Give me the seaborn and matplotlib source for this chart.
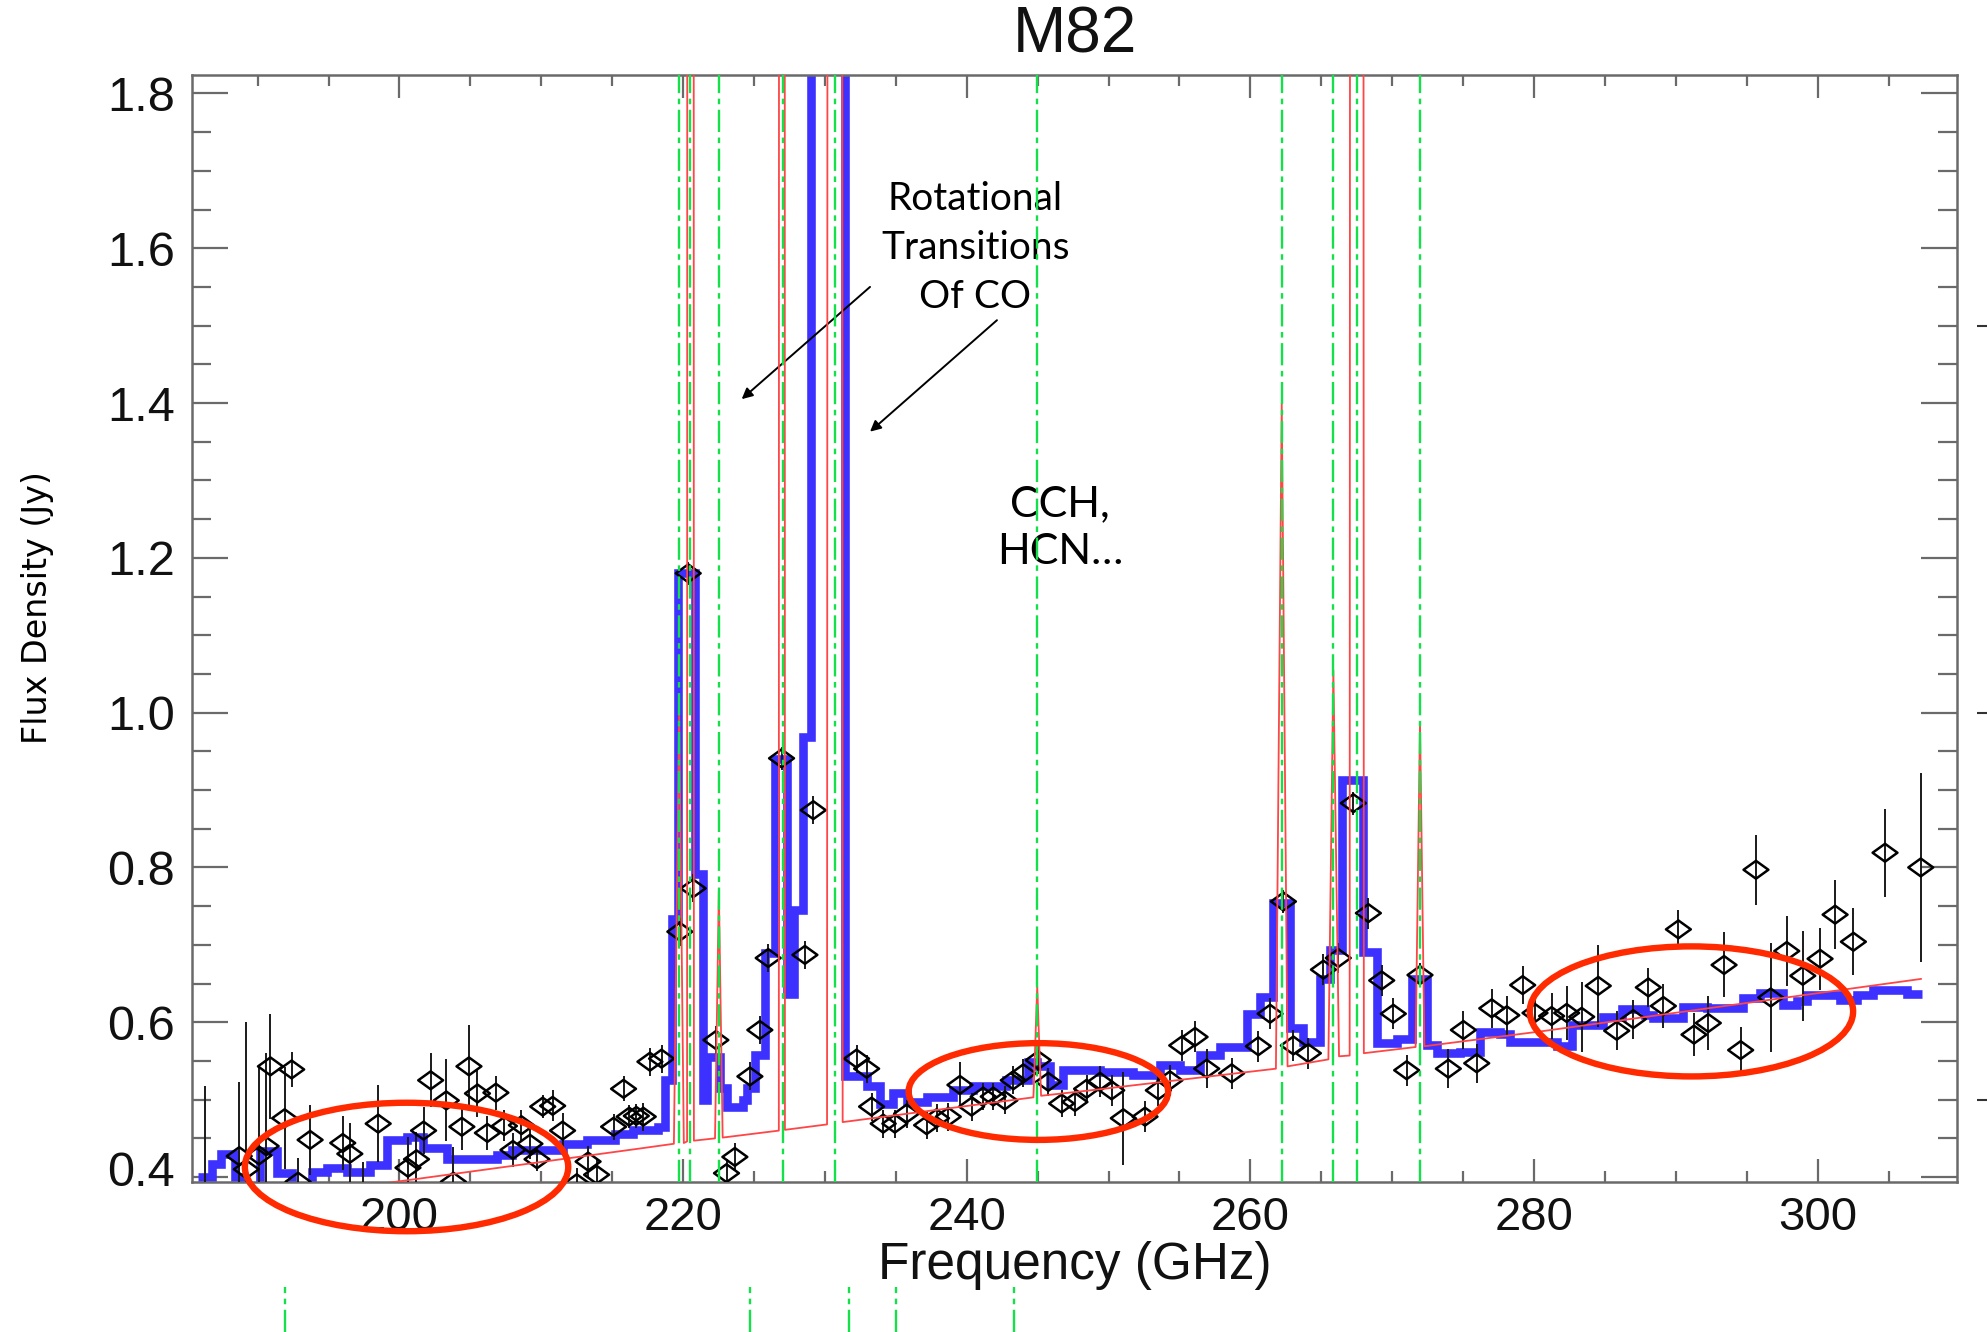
import numpy as np
import pandas as pd
import matplotlib
matplotlib.use("Agg")
import matplotlib.pyplot as plt
import seaborn as sns
from matplotlib.patches import Ellipse
from matplotlib.path import Path
from matplotlib.ticker import MultipleLocator
import matplotlib.transforms as mtransforms

# ---------------- data ----------------
# binned spectrum (blue step line): bin start frequency (GHz) and flux (Jy)
blue_freq = [185.8, 186.75, 187.45, 188.4, 188.98, 190.16, 191.38, 192.39, 193.8, 194.86,
             196.27, 197.92, 199.09, 200.5, 201.68, 203.32, 206.85, 207.9, 211.55, 213.2,
             215.2, 216.5, 218.25, 218.7, 219.2, 219.66, 220.83, 221.4, 221.7, 222.6,
             223.1, 224.2, 224.5, 225.1, 225.77, 226.45, 227.3, 227.85, 228.45, 229.0,
             231.45, 232.94, 233.88, 234.82, 235.76, 237.17, 239.05, 240.46, 242.8, 244.34,
             244.93, 245.87, 246.81, 249.4, 251.75, 253.63, 255.04, 256.45, 257.86, 259.74,
             260.68, 261.62, 262.8, 263.74, 264.91, 265.62, 266.44, 267.97, 268.91, 270.32,
             271.38, 272.43, 273.14, 274.78, 276.2, 277.6, 278.31, 281.6, 282.65, 284.89,
             286.18, 287.83, 288.41, 290.53, 292.18, 294.76, 295.94, 297.58, 298.52, 299.23,
             301.58, 302.75, 303.93, 306.28, 307.34]
blue_flux = [0.400, 0.417, 0.430, 0.400, 0.380, 0.434, 0.405, 0.380, 0.407, 0.412,
             0.407, 0.415, 0.448, 0.452, 0.437, 0.423, 0.428, 0.435, 0.443, 0.448,
             0.456, 0.461, 0.465, 0.525, 0.734, 1.180, 0.792, 0.500, 0.555, 0.515,
             0.490, 0.500, 0.515, 0.558, 0.689, 0.940, 0.637, 0.745, 0.968, 2.500,
             0.530, 0.517, 0.495, 0.508, 0.497, 0.504, 0.512, 0.517, 0.525, 0.549,
             0.543, 0.519, 0.538, 0.536, 0.532, 0.545, 0.538, 0.558, 0.568, 0.611,
             0.633, 0.754, 0.592, 0.575, 0.656, 0.693, 0.913, 0.691, 0.573, 0.579,
             0.656, 0.570, 0.560, 0.562, 0.588, 0.585, 0.575, 0.569, 0.596, 0.607,
             0.617, 0.610, 0.605, 0.620, 0.618, 0.631, 0.638, 0.622, 0.628, 0.635,
             0.629, 0.635, 0.642, 0.637, 0.637]

# model (red thin line): vertices of continuum + line profiles
red_freq = [199.0, 217.0, 219.35, 219.72, 220.05, 220.28, 220.52, 220.76, 222.25, 222.52,
            222.79, 226.75, 226.95, 227.18, 230.15, 230.70, 231.25, 244.70, 244.97, 245.24,
            248.70, 261.80, 262.21, 262.62, 265.50, 265.85, 266.25, 267.00, 267.50, 268.00,
            271.65, 271.96, 272.27, 280.40, 307.30]
red_flux = [0.392, 0.437, 0.443, 1.000, 0.444, 0.446, 30.0, 0.447, 0.450, 0.770,
            0.451, 0.460, 30.0, 0.461, 0.468, 30.0, 0.471, 0.503, 0.646, 0.505,
            0.512, 0.540, 1.400, 0.543, 0.552, 1.055, 0.556, 0.557, 30.0, 0.560,
            0.568, 0.988, 0.569, 0.588, 0.656]

# measured points (diamonds) with 1-sigma errors
pt_freq = [186.3, 188.7, 189.2, 190.1, 190.6, 190.9, 191.9, 192.4, 192.85, 193.7,
           196.0, 196.5, 197.4, 198.5, 200.6, 201.2, 201.7, 202.2, 203.3, 203.8,
           204.4, 204.9, 205.5, 206.2, 206.8, 207.4, 208.0, 208.6, 209.2, 209.7,
           210.1, 210.8, 211.5, 212.5, 213.3, 213.9, 215.1, 215.8, 216.2, 216.7,
           217.19, 217.66, 218.48, 219.77, 220.36, 220.71, 222.31, 223.06, 223.65, 224.71,
           225.41, 226.0, 226.94, 228.59, 229.18, 232.23, 232.94, 233.29, 234.11, 234.93,
           235.76, 237.17, 237.87, 238.7, 239.52, 240.34, 241.16, 241.87, 242.69, 243.28,
           243.99, 245.04, 245.75, 246.69, 247.63, 248.45, 249.4, 250.22, 251.04, 252.57,
           253.51, 254.33, 255.16, 256.1, 256.92, 258.68, 260.56, 261.39, 262.33, 263.03,
           264.09, 265.15, 266.2, 267.26, 268.32, 269.26, 270.08, 271.02, 271.96, 273.96,
           275.02, 275.96, 277.02, 278.08, 279.2, 280.07, 281.24, 282.3, 283.36, 284.53,
           285.83, 287.0, 288.06, 289.12, 290.18, 291.28, 292.29, 293.4, 294.57, 295.65,
           296.69, 297.82, 298.95, 300.17, 301.23, 302.52, 304.75, 307.27]
pt_flux = [0.370, 0.427, 0.410, 0.428, 0.440, 0.543, 0.476, 0.539, 0.394, 0.448,
           0.444, 0.430, 0.380, 0.469, 0.412, 0.423, 0.460, 0.525, 0.499, 0.394,
           0.465, 0.543, 0.508, 0.457, 0.509, 0.466, 0.435, 0.467, 0.443, 0.423,
           0.491, 0.492, 0.460, 0.392, 0.420, 0.403, 0.465, 0.514, 0.478, 0.479,
           0.478, 0.549, 0.553, 0.717, 1.180, 0.773, 0.577, 0.405, 0.426, 0.530,
           0.590, 0.683, 0.941, 0.687, 0.874, 0.553, 0.540, 0.491, 0.469, 0.469,
           0.482, 0.467, 0.476, 0.478, 0.519, 0.491, 0.504, 0.504, 0.499, 0.525,
           0.534, 0.551, 0.523, 0.495, 0.497, 0.514, 0.523, 0.512, 0.476, 0.478,
           0.512, 0.525, 0.570, 0.581, 0.540, 0.534, 0.569, 0.611, 0.756, 0.570,
           0.560, 0.668, 0.683, 0.883, 0.741, 0.654, 0.611, 0.538, 0.661, 0.540,
           0.590, 0.547, 0.618, 0.609, 0.648, 0.612, 0.608, 0.612, 0.607, 0.647,
           0.589, 0.604, 0.645, 0.621, 0.720, 0.584, 0.599, 0.674, 0.564, 0.797,
           0.632, 0.692, 0.660, 0.682, 0.739, 0.704, 0.819, 0.800]
pt_err = [0.147, 0.096, 0.190, 0.115, 0.120, 0.068, 0.066, 0.023, 0.030, 0.045,
          0.035, 0.040, 0.040, 0.050, 0.040, 0.035, 0.030, 0.035, 0.053, 0.045,
          0.030, 0.053, 0.030, 0.022, 0.022, 0.020, 0.022, 0.020, 0.020, 0.015,
          0.015, 0.020, 0.023, 0.020, 0.020, 0.020, 0.017, 0.016, 0.015, 0.015,
          0.018, 0.018, 0.018, 0.018, 0.015, 0.018, 0.018, 0.018, 0.018, 0.018,
          0.018, 0.018, 0.015, 0.018, 0.018, 0.018, 0.018, 0.018, 0.018, 0.018,
          0.018, 0.018, 0.018, 0.018, 0.030, 0.018, 0.018, 0.018, 0.018, 0.018,
          0.018, 0.018, 0.018, 0.018, 0.018, 0.018, 0.020, 0.020, 0.060, 0.020,
          0.020, 0.020, 0.020, 0.020, 0.025, 0.020, 0.020, 0.020, 0.015, 0.020,
          0.020, 0.020, 0.020, 0.015, 0.020, 0.020, 0.020, 0.020, 0.015, 0.025,
          0.025, 0.025, 0.025, 0.025, 0.025, 0.025, 0.030, 0.035, 0.045, 0.053,
          0.025, 0.025, 0.025, 0.028, 0.025, 0.028, 0.035, 0.042, 0.030, 0.045,
          0.070, 0.045, 0.058, 0.040, 0.045, 0.043, 0.057, 0.122]

# spectral line markers (green dash-dot)
line_freq = [219.72, 220.52, 222.52, 227.01, 230.70, 244.97, 262.21, 265.85, 267.50, 271.96]
# stray marks from the neighbouring panel (below the axis / right edge)
stray_freq = [191.9, 224.7, 231.7, 235.0, 243.3]
stray_flux = [0.5, 1.0, 1.5]

# highlighted regions (centre x, centre y, width, height)
ell_x = [200.5, 245.05, 291.1]
ell_y = [0.413, 0.5105, 0.614]
ell_w = [22.8, 18.3, 22.8]
ell_h = [0.166, 0.125, 0.168]

x_ticks = [200, 220, 240, 260, 280, 300]
y_ticks = [0.4, 0.6, 0.8, 1.0, 1.2, 1.4, 1.6, 1.8]

# ---------------- plotting ----------------
sns.set_theme(style="ticks")
plt.rcParams["font.family"] = ["Liberation Sans", "DejaVu Sans"]
plt.rcParams["lines.scale_dashes"] = False

fig = plt.figure(figsize=(19.87, 13.32), dpi=100)
fig.patch.set_facecolor("white")
ax = fig.add_axes([0.09648, 0.11284, 0.8886, 0.83086])
ax.set_facecolor("white")

blue_df = pd.DataFrame({"freq": blue_freq, "flux": blue_flux})
sns.lineplot(data=blue_df, x="freq", y="flux", drawstyle="steps-post", color="#3d31ff",
             lw=6.2, estimator=None, sort=False, ax=ax, zorder=2,
             solid_joinstyle="miter", solid_capstyle="butt")

ax.errorbar(pt_freq, pt_flux, yerr=pt_err, fmt="none", ecolor="#1a1a1a",
            elinewidth=1.4, capsize=0, zorder=3)
diamond = Path([(-1, 0), (0, 0.72), (1, 0), (0, -0.72), (-1, 0)],
               [Path.MOVETO, Path.LINETO, Path.LINETO, Path.LINETO, Path.CLOSEPOLY])
sns.scatterplot(x=pt_freq, y=pt_flux, marker=diamond, s=320, facecolor="none",
                edgecolor="black", linewidth=1.8, ax=ax, zorder=4)

red_df = pd.DataFrame({"freq": red_freq, "flux": red_flux})
sns.lineplot(data=red_df, x="freq", y="flux", color="#ff4545", lw=1.3,
             estimator=None, sort=False, ax=ax, zorder=5)

for f in line_freq:
    ax.axvline(f, color="#14e04a", lw=1.7, ls=(0, (16, 4, 4, 4)), zorder=6)

for cx, cy, w, h in zip(ell_x, ell_y, ell_w, ell_h):
    ax.add_patch(Ellipse((cx, cy), w, h, fill=False, ec="#ff2a00", lw=4.6,
                         clip_on=False, zorder=7))

# stray marks
tr_xa = mtransforms.blended_transform_factory(ax.transData, ax.transAxes)
ax.vlines(stray_freq, -0.136, -0.095, transform=tr_xa, colors="#14e04a", lw=1.7,
          linestyles=[(0, (16, 4, 4, 4))], clip_on=False)
tr_ay = mtransforms.blended_transform_factory(ax.transAxes, ax.transData)
ax.hlines(stray_flux, 1.011, 1.018, transform=tr_ay, colors="#333333", lw=1.5,
          clip_on=False)

# annotations
ax.text(240.6, 1.600, "Rotational\nTransitions\nOf CO", ha="center", va="center",
        fontsize=28, family=["Lato", "DejaVu Sans"], linespacing=1.45, color="black")
ax.text(246.6, 1.2385, "CCH,\nHCN\u2026", ha="center", va="center",
        fontsize=31, family=["Lato", "DejaVu Sans"], linespacing=1.3, color="black")
arrow_kw = dict(arrowstyle="-|>", color="black", lw=1.4, mutation_scale=16,
                shrinkA=0, shrinkB=0)
ax.annotate("", xy=(224.13, 1.405), xytext=(233.18, 1.550), arrowprops=arrow_kw)
ax.annotate("", xy=(233.18, 1.363), xytext=(242.13, 1.507), arrowprops=arrow_kw)

# axes cosmetics
ax.set_xlim(185.35, 309.85)
ax.set_ylim(0.394, 1.8238)
ax.set_xticks(x_ticks)
ax.set_yticks(y_ticks)
ax.xaxis.set_minor_locator(MultipleLocator(5))
ax.yaxis.set_minor_locator(MultipleLocator(0.05))
ax.set_xlabel("")
ax.set_ylabel("")
for sp in ax.spines.values():
    sp.set_visible(True)
    sp.set_color("#6a6a6a")
    sp.set_linewidth(1.8)
ax.tick_params(which="both", direction="in", top=True, right=True,
               color="#6a6a6a", width=1.6, labelcolor="#111111")
ax.tick_params(axis="x", which="major", length=16.5, labelsize=34, pad=10)
ax.tick_params(axis="x", which="minor", length=8)
ax.tick_params(axis="y", which="major", length=26, labelsize=35, pad=12)
ax.tick_params(axis="y", which="minor", length=14)

# the lowest y label sits a little higher in the reference
lbl = ax.yaxis.get_major_ticks()[0].label1
lbl.set_transform(lbl.get_transform() +
                  mtransforms.ScaledTranslation(0, 9 / 100, fig.dpi_scale_trans))

cx_axes = 0.09648 + 0.8886 / 2
fig.text(cx_axes, 1 - 35.5 / 1332, "M82", ha="center", va="center", fontsize=46,
         color="#111111")
fig.text(cx_axes, 1 - 1266 / 1332, "Frequency (GHz)", ha="center", va="center",
         fontsize=37, color="#111111")
fig.text(38 / 1987, 1 - 608 / 1332, "Flux Density (Jy)", ha="center", va="center",
         rotation=90, fontsize=24, family=["DejaVu Sans"], color="black")

fig.savefig("out.png", dpi=100, facecolor="white")
